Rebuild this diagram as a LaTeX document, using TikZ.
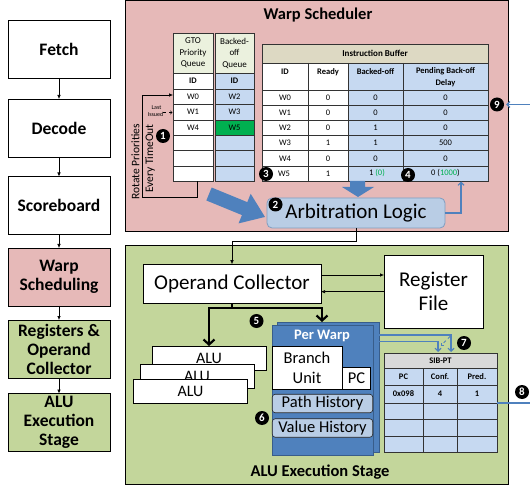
\documentclass[tikz,border=0pt]{standalone}
\usepackage{fontspec}
\setmainfont{Carlito}
\usetikzlibrary{arrows.meta,calc}
\definecolor{pinkbg}{HTML}{E6B9B8}
\definecolor{greenbg}{HTML}{C3D69B}
\definecolor{cellblue}{HTML}{C6D9F1}
\definecolor{arbblue}{HTML}{B9CDE5}
\definecolor{arbedge}{HTML}{7F9DC0}
\definecolor{ibhead}{HTML}{DDD9C3}
\definecolor{qhead}{HTML}{EBF1DE}
\definecolor{accent}{HTML}{4F81BD}
\definecolor{accentdark}{HTML}{385D8A}
\definecolor{brightgreen}{HTML}{00B050}
\definecolor{greytop}{HTML}{D9D9D9}
\newcommand{\fs}[2]{\fontsize{#1}{#2}\selectfont}
\begin{document}
\begin{tikzpicture}[x=1pt,y=-1pt,
  stage/.style={draw, line width=0.6pt, minimum width=102pt, minimum height=58pt, align=center, font=\fs{17.5}{19}\bfseries, inner sep=0pt, outer sep=0pt},
  flow/.style={line width=0.6pt, -{Latex[length=4pt,width=3.5pt]}},
  marker/.style={circle, fill=black, text=white, font=\fs{11}{11}\bfseries, inner sep=0pt, minimum size=14pt},
  cell/.style={font=\fs{8.5}{10}, inner sep=0pt},
  bcell/.style={font=\fs{8.5}{10}\bfseries, inner sep=0pt},
  bigbox/.style={draw, line width=0.6pt, fill=white, align=center, font=\fs{21}{24}, inner sep=0pt, outer sep=0pt},
  alubox/.style={draw, line width=0.6pt, fill=white, minimum width=114pt, minimum height=24pt, font=\fs{16}{18}, inner sep=0pt, outer sep=0pt},
  hist/.style={draw=black!85, line width=0.6pt, fill=arbblue, rounded corners=3pt, minimum width=100.5pt, minimum height=18.5pt, font=\fs{16.5}{18}, inner sep=0pt, outer sep=0pt},
  grid/.style={draw=black!80, line width=0.5pt},
  blueline/.style={draw=accent, line width=1.1pt},
  bluearr/.style={draw=accent, line width=1.1pt, -{Straight Barb[length=3pt,width=6pt]}},
  heavyarr/.style={line width=2.2pt, -{Straight Barb[length=5pt,width=11pt]}},
]
\useasboundingbox (0,0) rectangle (530,486);

% ---------- left pipeline ----------
\node[stage] (fetch) at (59,49) {Fetch};
\node[stage] (decode) at (59,128) {Decode};
\node[stage] (score) at (59,205.5) {Scoreboard};
\node[stage, fill=pinkbg] (wsch) at (59,277) {Warp\\Scheduling};
\node[stage, fill=greenbg] (regs) at (59,349) {Registers \&\\Operand\\Collector};
\node[stage, fill=greenbg] (alust) at (59,422.5) {ALU\\Execution\\Stage};
\draw[flow] (fetch) -- (decode);
\draw[flow] (decode) -- (score);
\draw[flow] (score) -- (wsch);
\draw[flow] (wsch) -- (regs);
\draw[flow] (regs) -- (alust);

% ---------- panels ----------
\draw[line width=0.6pt, fill=pinkbg] (125,0.5) rectangle (508,231);
\draw[line width=0.6pt, fill=greenbg] (125,245) rectangle (508,484);
\node[font=\fs{16.5}{19}\bfseries] (wstitle) at (318,15) {Warp Scheduler};
\node[font=\fs{16.5}{19}\bfseries] (alutitle) at (320,472) {ALU Execution Stage};

% ---------- queues ----------
\fill[qhead] (173,33) rectangle (213,73);
\fill[white] (173,73) rectangle (213,181.5);
\fill[qhead] (215,33) rectangle (254,73);
\fill[cellblue] (215,73) rectangle (254,181.5);
\fill[brightgreen] (215,119.8) rectangle (254,135.3);
\foreach \k in {0,...,6} {
  \draw[grid] (173,{89+15.42*\k}) -- (213,{89+15.42*\k});
  \draw[grid] (215,{89+15.42*\k}) -- (254,{89+15.42*\k});
}
\draw[grid] (173,73) -- (213,73);
\draw[grid] (215,73) -- (254,73);
\draw[grid] (173,33) rectangle (213,181.5);
\draw[grid] (215,33) rectangle (254,181.5);
\node[cell, align=center, font=\fs{9}{11.5}] (gtohd) at (193,53) {GTO\\Priority\\Queue};
\node[cell, align=center, font=\fs{9}{11.5}] (bohd) at (234.5,53) {Backed-\\off\\Queue};
\node[bcell] (gtoid) at (193,81) {ID};
\node[bcell] (boid) at (234.5,81) {ID};
\foreach \t/\k in {W0/0,W1/1,W4/2} \node[cell] (gto\k) at (193,{96.7+15.42*\k}) {\t};
\foreach \t/\k in {W2/0,W3/1,W5/2} \node[cell] (bo\k) at (234.5,{96.7+15.42*\k}) {\t};

% rotate priorities loop
\coordinate (gtobot) at (197,181.5);
\coordinate (gtoin) at (173,95);
\draw[flow] (gtobot) -- (197,197) -- (142.7,197) -- (142.7,95) -- (gtoin);
\node[rotate=90, anchor=east, font=\fs{11.5}{12}, inner sep=0pt] (rotp) at (135.5,124) {Rotate Priorities};
\node[rotate=90, anchor=east, font=\fs{11.5}{12}, inner sep=0pt] (evto) at (150,124) {Every TimeOut};
\node[font=\fs{6}{7}, inner sep=0pt] (lastlbl) at (156.5,107.5) {Last};
\node[font=\fs{6}{7}, inner sep=0pt] (isslbl) at (155.5,114) {Issued};
\coordinate (gtow1) at (172.5,112.5);
\draw[dashed, line width=0.4pt, -{Straight Barb[length=2pt,width=3.5pt]}] (isslbl.east |- gtow1) -- (gtow1);

% ---------- instruction buffer ----------
\fill[ibhead] (262,44) rectangle (488,63);
\fill[white] (262,63) rectangle (348,181);
\fill[cellblue] (348,63) rectangle (488,181);
\foreach \k in {0,...,5} \draw[grid] (262,{90+15.17*\k}) -- (488,{90+15.17*\k});
\draw[grid] (262,63) -- (488,63);
\foreach \x in {308,348,403} \draw[grid] (\x,63) -- (\x,181);
\draw[grid] (262,44) rectangle (488,181);
\node[font=\fs{9}{10}\bfseries, inner sep=0pt] (ibtitle) at (375,53.5) {Instruction Buffer};
\node[bcell] (hid) at (285,72) {ID};
\node[bcell] (hready) at (328,72) {Ready};
\node[bcell] (hbo) at (375.5,72) {Backed-off};
\node[bcell, align=center, font=\fs{8.5}{11.5}\bfseries] (hpend) at (445.5,77) {Pending Back-off\\Delay};
\foreach \id/\rd/\bo/\pd [count=\i from 0] in {W0/0/0/0, W1/0/0/0, W2/0/1/0, W3/1/1/500, W4/0/0/0} {
  \node[cell] (ida\i) at (285,{97.6+15.17*\i}) {\id};
  \node[cell] (rda\i) at (328,{97.6+15.17*\i}) {\rd};
  \node[cell] (boa\i) at (375.5,{97.6+15.17*\i}) {\bo};
  \node[cell] (pda\i) at (445.5,{97.6+15.17*\i}) {\pd};
}
\node[cell] (ida5) at (284,173.4) {W5};
\node[cell] (rda5) at (328,173.4) {1};
\node[cell] (boa5) at (377,173.4) {1 \textcolor{brightgreen}{(0)}};
\node[cell] (pda5) at (445.5,173.4) {0 (\textcolor{brightgreen}{1000})};

% block arrows
\fill[accent] (350,181) -- (365,181) -- (365,187) -- (374,187) -- (358,197) -- (342,187) -- (350,187) -- cycle;
\begin{scope}[shift={(209,194)}, rotate=-22.3]
  \fill[accent] (0,-7) -- (38.5,-7) -- (38.5,-16) -- (60.5,0) -- (38.5,16) -- (38.5,7) -- (0,7) -- cycle;
\end{scope}

% arbitration
\node[draw=arbedge, line width=0.8pt, fill=arbblue, rounded corners=5pt, minimum width=178pt, minimum height=30pt, font=\fs{21}{24}, inner sep=0pt, outer sep=0pt] (arb) at (356,213) {Arbitration Logic};
\coordinate (pendin) at (461,181.5);
\draw[bluearr] (arb.east) -| (pendin);

% ---------- ALU execution stage ----------
\node[bigbox, minimum width=178pt, minimum height=39pt] (opc) at (232,283.7) {Operand Collector};
\node[bigbox, minimum width=99pt, minimum height=73pt] (regf) at (433.5,291.5) {Register\\File};
\coordinate (bend) at (356,241);
\draw[flow] (arb.south) -- (bend) -| (opc.north);
\draw[flow] ([yshift=8.7pt]opc.east) -- ([yshift=8.7pt]opc.east -| regf.west);
\draw[flow] ([yshift=-8pt]opc.east -| regf.west) -- ([yshift=-8pt]opc.east);

% ALUs
\node[alubox] (alu3) at (209,358) {ALU};
\node[alubox] (alu2) at (197,376) {ALU};
\node[alubox] (alu1) at (190.5,391) {ALU};

% per warp
\node[draw=accentdark, fill=accent, line width=0.6pt, minimum width=102pt, minimum height=130pt, inner sep=0pt, outer sep=0pt] (pwback) at (328,387) {};
\node[draw=accentdark, fill=accent, line width=0.6pt, minimum width=101pt, minimum height=130pt, inner sep=0pt, outer sep=0pt] (pwfront) at (322.5,390) {};
\node[font=\fs{14.5}{16}\bfseries, text=white, inner sep=0pt] (pwtitle) at (322,336) {Per Warp};
\node[draw, line width=0.6pt, fill=white, minimum width=70pt, minimum height=43pt, align=center, font=\fs{16.5}{20}, inner sep=0pt, outer sep=0pt] (branch) at (307,367.5) {Branch\\Unit};
\node[draw, line width=0.6pt, fill=white, minimum width=28.5pt, minimum height=22pt, font=\fs{16.5}{20}, inner sep=0pt, outer sep=0pt] (pc) at (356.5,378) {PC};
\node[hist] (path) at (322.5,403.5) {Path History};
\node[hist] (value) at (322.5,428) {Value History};

% heavy arrows
\coordinate (split) at (232,308);
\coordinate (pwin) at (322,322);
\draw[line width=2.2pt] (opc.south) -- (split);
\draw[heavyarr] (split) -| (alu3.north);
\draw[heavyarr] (split) -| (pwin);

% SIB-PT
\fill[greytop] (384,353) rectangle (497,368);
\fill[cellblue] (384,368) rectangle (497,452);
\foreach \y in {368,385,403,419,436} \draw[grid] (384,\y) -- (497,\y);
\foreach \x in {423,457} \draw[grid] (\x,368) -- (\x,452);
\draw[grid] (384,353) rectangle (497,452);
\node[bcell] (sibt) at (440.5,360.5) {SIB-PT};
\node[bcell] (spc) at (403.5,376.5) {PC};
\node[bcell] (sconf) at (440,376.5) {Conf.};
\node[bcell] (spred) at (477,376.5) {Pred.};
\node[bcell] (s1) at (403.5,394) {0x098};
\node[bcell] (s2) at (440,394) {4};
\node[bcell] (s3) at (477,394) {1};

% blue connectors 7
\coordinate (sibin1) at (451,352);
\coordinate (sibin2) at (438,352);
\draw[bluearr] ([yshift=-13pt]pwback.north east) -| (sibin1);
\draw[bluearr] ([yshift=-19.5pt]pwback.north east) -| (sibin2);
\draw[draw=accent, line width=0.9pt, dashed, -{Straight Barb[length=2pt,width=4pt]}] (450,336.5) -- (440.5,346);

% right side connectors 8, 9
\coordinate (sibout) at (497,403);
\coordinate (edge8) at (530,403);
\draw[blueline] (sibout) -- (edge8);
\coordinate (edge9) at (530,104.5);

% markers
\node[marker] (m1) at (163,136) {1};
\node[marker] (m2) at (275.5,204.5) {2};
\node[marker] (m3) at (266,174) {3};
\node[marker] (m4) at (408,175) {4};
\node[marker] (m5) at (256.5,321) {5};
\node[marker] (m6) at (262,418) {6};
\node[marker] (m7) at (464,343) {7};
\node[marker] (m8) at (522,392) {8};
\node[marker] (m9) at (497,104.5) {9};
\draw[bluearr] (edge9) -- ([xshift=2pt]m9.east);
\end{tikzpicture}
\end{document}
